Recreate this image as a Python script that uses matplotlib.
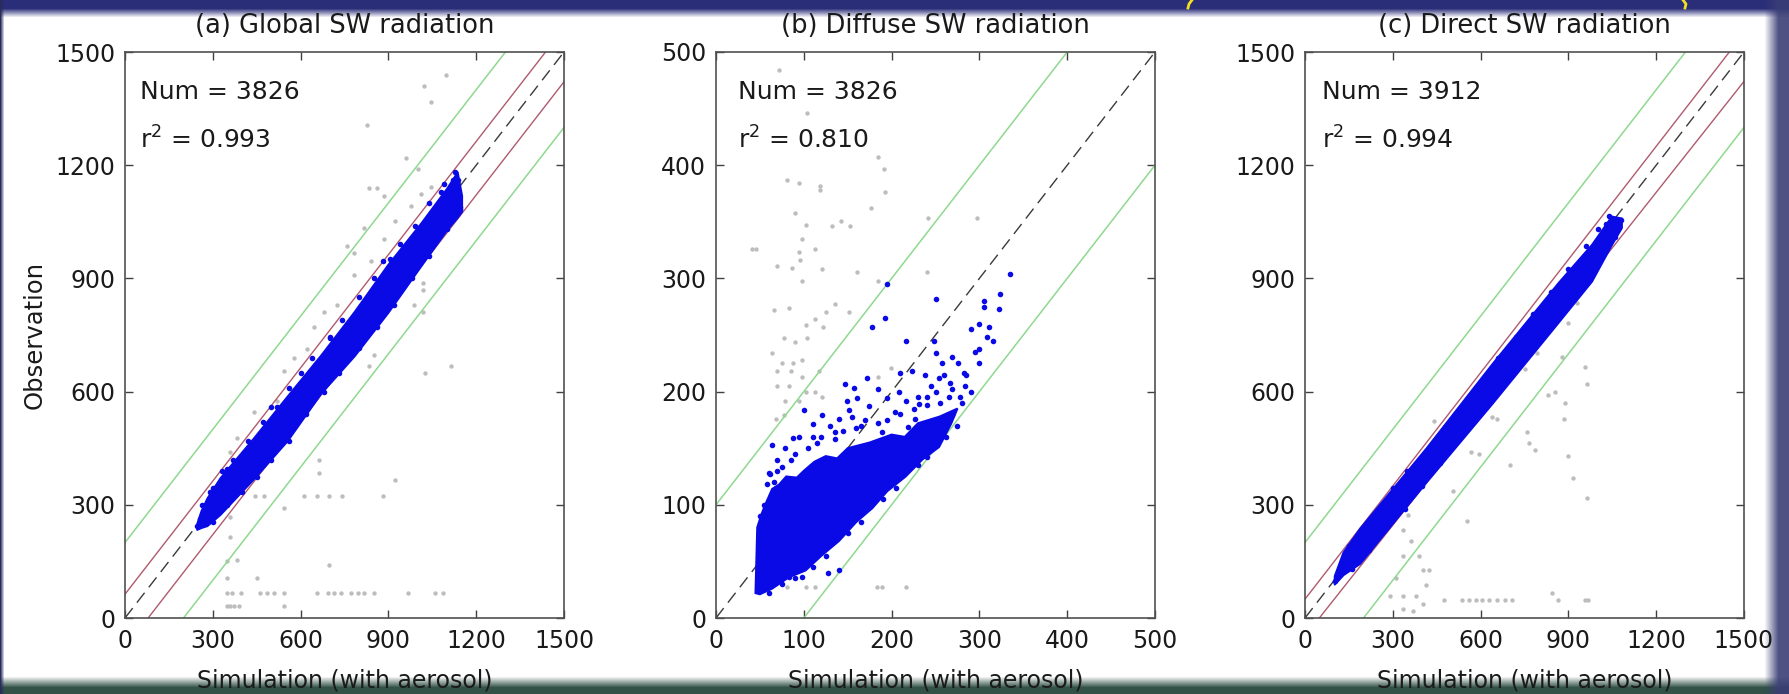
import numpy as np
import matplotlib.pyplot as plt

plt.rcParams['font.family'] = ['DejaVu Sans']

# ---- data ----
titles = ['(a) Global SW radiation', '(b) Diffuse SW radiation', '(c) Direct SW radiation']
nums = [3826, 3826, 3912]
r2s = ['0.993', '0.810', '0.994']
limits = [1500, 500, 1500]
steps = [300, 100, 300]

# dense core of the blue cloud (upper/lower envelope)
a_band_x = [245, 260, 280, 325, 440, 554, 669, 783, 898, 1012, 1100, 1135, 1150]
a_band_hi = [250, 285, 318, 372, 478, 588, 697, 812, 937, 1048, 1140, 1182, 1120]
a_band_lo = [235, 240, 245, 275, 370, 470, 596, 695, 810, 935, 1030, 1062, 1078]

c_band_x = [100, 130, 187, 413, 640, 866, 979, 1047, 1081]
c_band_hi = [112, 175, 238, 450, 675, 890, 990, 1065, 1060]
c_band_lo = [90, 115, 145, 360, 570, 785, 893, 990, 1035]

# panel b core is a wedge, given as outline
b_core_x = [45, 47, 52, 56, 64, 72, 80, 92, 100, 112, 125, 138, 150, 175, 200, 215, 230, 255, 275,
            268, 254, 235, 216, 195, 178, 160, 140, 120, 102, 83, 64, 50]
b_core_y = [22, 80, 92, 100, 114, 118, 125, 124, 130, 138, 143, 141, 150, 155, 162, 160, 172, 178, 185,
            172, 151, 140, 125, 112, 97, 85, 68, 55, 42, 36, 26, 21]

# scattered blue points
a_blue_x = [247, 256, 274, 1127, 1138, 1144, 1115, 262, 300, 350, 520, 700, 905, 1060, 1090,
            290, 330, 370, 420, 470, 500, 560, 600, 640, 700, 740, 800, 850, 880, 940, 990, 1040, 1080, 1120,
            300, 350, 400, 450, 500, 560, 620, 680, 730, 800, 860, 920, 980, 1040, 1100, 1145]
a_blue_y = [243, 263, 292, 1181, 1162, 1084, 1123, 300, 345, 395, 560, 742, 952, 1070, 1150,
            335, 390, 420, 470, 520, 560, 610, 650, 690, 745, 790, 850, 900, 945, 990, 1040, 1100, 1130, 1160,
            255, 300, 335, 375, 420, 470, 540, 600, 650, 715, 770, 830, 900, 960, 1030, 1090]

b_blue_x = [195, 250, 335, 324, 305, 305, 322, 193, 178, 216, 248, 290, 311, 309, 299, 250, 269, 276,
            257, 223, 210, 238, 282, 254, 267, 269, 250, 240, 216, 231, 147, 172, 157, 185, 161, 195,
            149, 151, 174, 204, 140, 121, 100, 111, 88, 79, 64, 75, 62, 136, 159, 189, 204, 219, 227,
            254, 269, 278, 284, 83, 98, 128, 140,
            50, 55, 58, 66, 70, 85, 90, 105, 115, 120, 135, 145, 165, 185, 195, 210, 225, 240, 255, 265,
            280, 290, 285, 300, 295, 315, 300, 260, 245, 230, 208, 170, 155, 130, 110, 95, 70, 60,
            60, 75, 90, 110, 125, 150, 165, 190, 205, 230, 240, 262, 275]
b_blue_y = [295, 282, 304, 286, 280, 275, 273, 265, 257, 245, 245, 255, 257, 248, 238, 234, 231, 225,
            225, 218, 216, 215, 216, 212, 208, 202, 200, 195, 192, 189, 207, 212, 203, 202, 194, 194,
            192, 184, 187, 182, 176, 179, 184, 171, 159, 150, 153, 133, 127, 164, 168, 164, 159, 169, 176,
            176, 179, 195, 205, 36, 36, 40, 42,
            90, 100, 118, 120, 130, 140, 145, 150, 155, 160, 158, 165, 170, 172, 175, 180, 185, 188, 190, 195,
            190, 200, 215, 225, 235, 245, 260, 215, 205, 195, 200, 175, 178, 170, 160, 160, 140, 128,
            22, 30, 35, 45, 55, 75, 85, 105, 115, 135, 142, 160, 170]

c_blue_x = [102, 108, 125, 142, 175, 1064, 1081, 1047, 1030,
            150, 200, 250, 300, 350, 420, 480, 540, 600, 660, 720, 780, 840, 900, 960, 1000, 1040,
            160, 220, 280, 340, 400, 460, 520, 580, 640, 700, 760, 820, 880, 940, 1000, 1060]
c_blue_y = [97, 107, 136, 175, 165, 1025, 1054, 1059, 1045,
            190, 240, 285, 345, 390, 445, 505, 565, 625, 690, 745, 805, 865, 925, 985, 1030, 1065,
            130, 180, 240, 290, 350, 410, 470, 530, 590, 650, 710, 770, 830, 885, 950, 1010]

# gray (excluded) points
a_gray_x = [1098, 1021, 1047, 827, 961, 835, 860, 886, 1001, 1018, 1018, 989, 1018, 1115, 1024, 835, 852,
            360, 382, 440, 520, 543, 577, 623, 646, 680, 726, 783, 783, 840, 886, 921, 978, 1012, 1047,
            1070, 817, 760, 663, 663, 921, 543, 474, 445, 611, 657, 698, 743, 880, 359, 359, 382, 348,
            348, 451, 697, 348, 367, 395, 462, 485, 508, 543, 657, 692, 715, 738, 772, 795, 818, 852,
            967, 1058, 1087, 348, 359, 371, 388, 543]
a_gray_y = [1438, 1411, 1367, 1307, 1220, 1140, 1140, 1118, 1189, 888, 869, 830, 810, 668, 649, 668, 698,
            439, 478, 546, 575, 654, 688, 712, 771, 810, 830, 908, 968, 947, 1005, 1053, 1092, 1123, 1142,
            1103, 1034, 985, 419, 385, 366, 292, 322, 322, 322, 322, 322, 322, 322, 268, 214, 155, 150,
            107, 107, 141, 67, 67, 67, 67, 67, 67, 67, 67, 67, 67, 67, 67, 67, 67, 67,
            67, 67, 67, 33, 33, 33, 33, 33]

b_gray_x = [41, 45, 81, 94, 119, 119, 185, 191, 193, 176, 142, 153, 132, 102, 90, 98, 113, 94, 96, 86, 69,
            121, 98, 161, 242, 297, 240, 185, 66, 83, 125, 136, 151, 102, 113, 122, 77, 90, 104, 64, 75,
            88, 98, 69, 85, 98, 117, 69, 83, 113, 102, 79, 94, 68, 77, 121, 185, 199, 183, 189, 216, 81,
            102, 113, 72, 104]
b_gray_y = [326, 326, 387, 384, 382, 378, 407, 397, 376, 362, 351, 346, 346, 347, 358, 335, 326, 323, 316,
            309, 311, 308, 298, 306, 353, 353, 306, 298, 272, 274, 270, 277, 270, 259, 264, 257, 247, 244,
            247, 234, 225, 225, 228, 218, 218, 213, 218, 205, 205, 200, 200, 192, 192, 176, 179, 195, 213,
            221, 27, 27, 27, 27, 27, 27, 484, 446]

c_gray_x = [702, 758, 764, 786, 889, 884, 917, 900, 962, 957, 962, 877, 900, 929, 753, 696, 640, 657, 566,
            594, 555, 504, 441, 832, 855, 792, 351, 334, 362, 391, 402, 413, 334, 311, 289, 334, 379, 402,
            334, 368, 425, 475, 538, 561, 583, 606, 629, 657, 685, 708, 843, 866, 957, 968]
c_gray_y = [405, 493, 463, 444, 571, 527, 370, 429, 317, 664, 620, 693, 781, 835, 659, 639, 532, 527, 439,
            434, 258, 336, 522, 590, 600, 703, 273, 234, 204, 165, 126, 87, 165, 107, 58, 58, 58, 38,
            23, 19, 126, 48, 48, 48, 48, 48, 48, 48, 48, 48, 67, 48, 48, 48]

# reference lines: (slope, intercept)
green_lines = [[(1, 200), (1, -200)], [(1, 100), (1, -100)], [(1, 200), (1, -200)]]
red_lines = [[(1.0, 63), (1.0, -79)], [], [(1.0, 50), (0.98, -48)]]

# ---- figure ----
W, H = 1789, 694
fig = plt.figure(figsize=(W / 100, H / 100), dpi=100)

# slide frame: dark bands on the edges
yy, xx = np.mgrid[0:H, 0:W]
img = np.ones((H, W, 3))


def blend(img, alpha, color):
    alpha = alpha[..., None]
    return img * (1 - alpha) + np.array(color) / 255 * alpha


img = blend(img, np.clip((17 - yy) / 9, 0, 1), (42, 46, 120))
img = blend(img, np.clip((yy - 676) / 11, 0, 1), (50, 82, 72))
img = blend(img, np.clip((xx - 1764) / 14, 0, 1) * 0.9, (58, 62, 118))
img = blend(img, np.clip((4 - xx) / 4, 0, 1), (40, 44, 90))
bg = fig.add_axes([0, 0, 1, 1])
bg.imshow(img, extent=[0, W, H, 0], aspect='auto', interpolation='bilinear')
# cut-off yellow strokes of the slide heading
bg.plot([1192, 1189, 1188], [0, 4, 8], color='#f0e020', lw=2)
bg.plot([1683, 1686, 1685], [0, 4, 8], color='#f0e020', lw=2)
bg.set_xlim(0, W)
bg.set_ylim(H, 0)
bg.axis('off')
bg.set_zorder(-5)

lefts = [125, 716, 1305]
axw, top, bottom = 439, 52, 618
blue = '#0a0ae6'

blue_fill = [(a_band_x, a_band_lo, a_band_hi), None, (c_band_x, c_band_lo, c_band_hi)]
blue_pts = [(a_blue_x, a_blue_y), (b_blue_x, b_blue_y), (c_blue_x, c_blue_y)]
gray_pts = [(a_gray_x, a_gray_y), (b_gray_x, b_gray_y), (c_gray_x, c_gray_y)]
text_x = [0.035, 0.05, 0.038]

for i in range(3):
    ax = fig.add_axes([lefts[i] / W, (H - bottom) / H, axw / W, (bottom - top) / H])
    lim = limits[i]
    ends = np.array([0, lim])

    ax.scatter(gray_pts[i][0], gray_pts[i][1], s=10, color='#bdbdbd', linewidths=0, zorder=1)
    for s, b in green_lines[i]:
        ax.plot(ends, s * ends + b, color='#8fd88f', lw=1.1, zorder=2)
    for s, b in red_lines[i]:
        ax.plot(ends, s * ends + b, color='#b05a6e', lw=1.0, zorder=2)
    ax.plot(ends, ends, color='#3a3a3a', lw=1.0, dashes=(9, 5), zorder=2)

    if blue_fill[i] is not None:
        bx, lo, hi = blue_fill[i]
        ax.fill_between(bx, lo, hi, color=blue, lw=1.5, edgecolor=blue, zorder=3)
    else:
        ax.fill(b_core_x, b_core_y, color=blue, lw=1.5, zorder=3)
    ax.scatter(blue_pts[i][0], blue_pts[i][1], s=16, color=blue, linewidths=0, zorder=4)

    ax.set_xlim(0, lim)
    ax.set_ylim(0, lim)
    ticks = np.arange(0, lim + 1, steps[i])
    ax.set_xticks(ticks)
    ax.set_yticks(ticks)
    ax.tick_params(direction='in', top=True, right=True, length=6, width=1.0,
                   color='#404040', labelsize=17, labelcolor='#1a1a1a')
    ax.tick_params(axis='x', pad=8)
    ax.tick_params(axis='y', pad=7)
    for sp in ax.spines.values():
        sp.set_color('#505050')
        sp.set_linewidth(1.2)

    ax.set_title(titles[i], fontsize=18.5, color='#1a1a1a', pad=14)
    ax.set_xlabel('Simulation (with aerosol)', fontsize=17, color='#1a1a1a', labelpad=11)
    if i == 0:
        ax.set_ylabel('Observation', fontsize=17.5, color='#1a1a1a', labelpad=6)

    ax.text(text_x[i], 0.93, 'Num = %d' % nums[i], transform=ax.transAxes,
            fontsize=18, va='center', color='#1a1a1a')
    ax.text(text_x[i], 0.845, 'r$^2$ = ' + r2s[i], transform=ax.transAxes,
            fontsize=18, va='center', color='#1a1a1a')

fig.savefig('out.png', dpi=100)
